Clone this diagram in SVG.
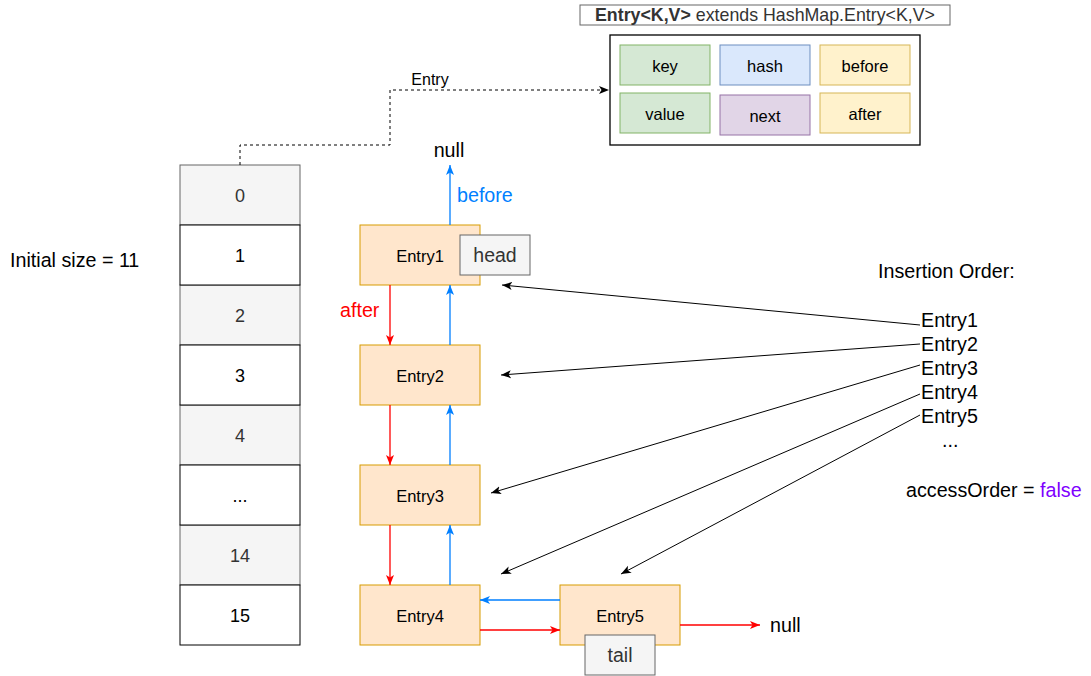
<svg xmlns="http://www.w3.org/2000/svg" width="1091" height="676" viewBox="0 0 1091 676">
<style>
text{font-family:"Liberation Sans",Arial,Helvetica,sans-serif;}
.gcell{fill:#f5f5f5;stroke:#666666;stroke-width:1}
.wcell{fill:#ffffff;stroke:#000000;stroke-width:1}
.num{font-size:18px;text-anchor:middle}
.entry{fill:#ffe6cc;stroke:#d79b00;stroke-width:1}
.etxt{font-size:16.5px;text-anchor:middle;fill:#000}
.lbl{fill:#f5f5f5;stroke:#666666;stroke-width:1}
.ltxt{font-size:19.5px;text-anchor:middle;fill:#333333}
.ftxt{font-size:16.5px;text-anchor:middle;fill:#000}
.big{font-size:19.7px;fill:#000}
.blue{stroke:#007fff;stroke-width:1.3;fill:none}
.red{stroke:#ff0000;stroke-width:1.3;fill:none}
.blk{stroke:#000;stroke-width:1;fill:none}
</style>
<defs>
<marker id="ab" markerUnits="userSpaceOnUse" markerWidth="12" markerHeight="10" refX="10" refY="4.5" orient="auto" viewBox="0 0 12 10">
<path d="M0,0.5 L10,4.5 L0,8.5 L2.5,4.5 Z" fill="#007fff"/>
</marker>
<marker id="ar" markerUnits="userSpaceOnUse" markerWidth="12" markerHeight="10" refX="10" refY="4.5" orient="auto" viewBox="0 0 12 10">
<path d="M0,0.5 L10,4.5 L0,8.5 L2.5,4.5 Z" fill="#ff0000"/>
</marker>
<marker id="ak" markerUnits="userSpaceOnUse" markerWidth="12" markerHeight="10" refX="10" refY="4.5" orient="auto" viewBox="0 0 12 10">
<path d="M0,0.5 L10,4.5 L0,8.5 L2.5,4.5 Z" fill="#000000"/>
</marker>
</defs>
<rect width="1091" height="676" fill="#ffffff"/>

<g id="array">
<rect class="gcell" x="180" y="165" width="120" height="60"/>
<rect class="gcell" x="180" y="285" width="120" height="60"/>
<rect class="gcell" x="180" y="405" width="120" height="60"/>
<rect class="gcell" x="180" y="525" width="120" height="60"/>
<rect class="wcell" x="180" y="225" width="120" height="60"/>
<rect class="wcell" x="180" y="345" width="120" height="60"/>
<rect class="wcell" x="180" y="465" width="120" height="60"/>
<rect class="wcell" x="180" y="585" width="120" height="60"/>
<text class="num" x="240" y="202" fill="#333333">0</text>
<text class="num" x="240" y="262" fill="#000">1</text>
<text class="num" x="240" y="322" fill="#333333">2</text>
<text class="num" x="240" y="382" fill="#000">3</text>
<text class="num" x="240" y="442" fill="#333333">4</text>
<text class="num" x="240" y="502" fill="#000">...</text>
<text class="num" x="240" y="562" fill="#333333">14</text>
<text class="num" x="240" y="622" fill="#000">15</text>
</g>

<g id="initial-size"><text class="big" x="10" y="267">Initial size = 11</text></g>

<g id="entry-struct">
<rect x="580" y="5" width="370" height="20" fill="#ffffff" stroke="#666666" stroke-width="1"/>
<text x="765" y="21" text-anchor="middle" font-size="17.8" fill="#333333"><tspan font-weight="bold">Entry&lt;K,V&gt;</tspan> extends HashMap.Entry&lt;K,V&gt;</text>
<rect x="610" y="35" width="310" height="110" fill="#ffffff" stroke="#000" stroke-width="1.3"/>
<rect x="620" y="45" width="90" height="40" fill="#d5e8d4" stroke="#82b366"/>
<text class="ftxt" x="665" y="72">key</text>
<rect x="720" y="45" width="90" height="40" fill="#dae8fc" stroke="#6c8ebf"/>
<text class="ftxt" x="765" y="72">hash</text>
<rect x="820" y="45" width="90" height="40" fill="#fff2cc" stroke="#d6b656"/>
<text class="ftxt" x="865" y="72">before</text>
<rect x="620" y="93" width="90" height="40" fill="#d5e8d4" stroke="#82b366"/>
<text class="ftxt" x="665" y="120">value</text>
<rect x="720" y="95" width="90" height="40" fill="#e1d5e7" stroke="#9673a6"/>
<text class="ftxt" x="765" y="122">next</text>
<rect x="820" y="93" width="90" height="40" fill="#fff2cc" stroke="#d6b656"/>
<text class="ftxt" x="865" y="120">after</text>
</g>

<g id="entry1"><rect class="entry" x="360" y="225" width="120" height="60"/><text class="etxt" x="420" y="262">Entry1</text></g>
<g id="head"><rect class="lbl" x="460" y="235" width="70" height="40"/><text class="ltxt" x="495" y="262">head</text></g>
<g id="entry2"><rect class="entry" x="360" y="345" width="120" height="60"/><text class="etxt" x="420" y="382">Entry2</text></g>
<g id="entry3"><rect class="entry" x="360" y="465" width="120" height="60"/><text class="etxt" x="420" y="502">Entry3</text></g>
<g id="entry4"><rect class="entry" x="360" y="585" width="120" height="60"/><text class="etxt" x="420" y="622">Entry4</text></g>
<g id="entry5"><rect class="entry" x="560" y="585" width="120" height="60"/><text class="etxt" x="620" y="622">Entry5</text></g>
<g id="tail"><rect class="lbl" x="585" y="635" width="70" height="40"/><text class="ltxt" x="620" y="662">tail</text></g>

<g id="null-top"><text class="big" x="449" y="157" text-anchor="middle">null</text></g>
<g id="null-bottom"><text class="big" x="770" y="632">null</text></g>

<g id="insertion-order">
<text class="big" x="878" y="278">Insertion Order:</text>
<text class="big" x="921" y="327">Entry1</text>
<text class="big" x="921" y="351">Entry2</text>
<text class="big" x="921" y="375">Entry3</text>
<text class="big" x="921" y="399">Entry4</text>
<text class="big" x="921" y="423">Entry5</text>
<text class="big" x="942" y="447">...</text>
<text class="big" x="906" y="497">accessOrder = <tspan fill="#7f00ff">false</tspan></text>
</g>

<g id="connectors">
<path d="M240,165 V145 H390 V90 H609" fill="none" stroke="#000" stroke-width="1" stroke-dasharray="3,3" marker-end="url(#ak)"/>
<text x="430" y="85" font-size="16" text-anchor="middle" fill="#000">Entry</text>

<path class="blue" d="M450,225 V165" marker-end="url(#ab)"/>
<text x="457" y="202" font-size="19.7" fill="#007fff">before</text>
<path class="blue" d="M450,345 V285" marker-end="url(#ab)"/>
<path class="blue" d="M450,465 V405" marker-end="url(#ab)"/>
<path class="blue" d="M450,585 V525" marker-end="url(#ab)"/>
<path class="blue" d="M560,600 H480" marker-end="url(#ab)"/>

<path class="red" d="M390,285 V345" marker-end="url(#ar)"/>
<text x="340" y="317" font-size="19.7" fill="#ff0000">after</text>
<path class="red" d="M390,405 V465" marker-end="url(#ar)"/>
<path class="red" d="M390,525 V585" marker-end="url(#ar)"/>
<path class="red" d="M480,630 H560" marker-end="url(#ar)"/>
<path class="red" d="M680,625 H760" marker-end="url(#ar)"/>

<path class="blk" d="M920,325 L502,285" marker-end="url(#ak)"/>
<path class="blk" d="M920,344 L501,375" marker-end="url(#ak)"/>
<path class="blk" d="M920,365 L491,493" marker-end="url(#ak)"/>
<path class="blk" d="M920,394 L501,574" marker-end="url(#ak)"/>
<path class="blk" d="M920,415 L621,574" marker-end="url(#ak)"/>
</g>
</svg>
